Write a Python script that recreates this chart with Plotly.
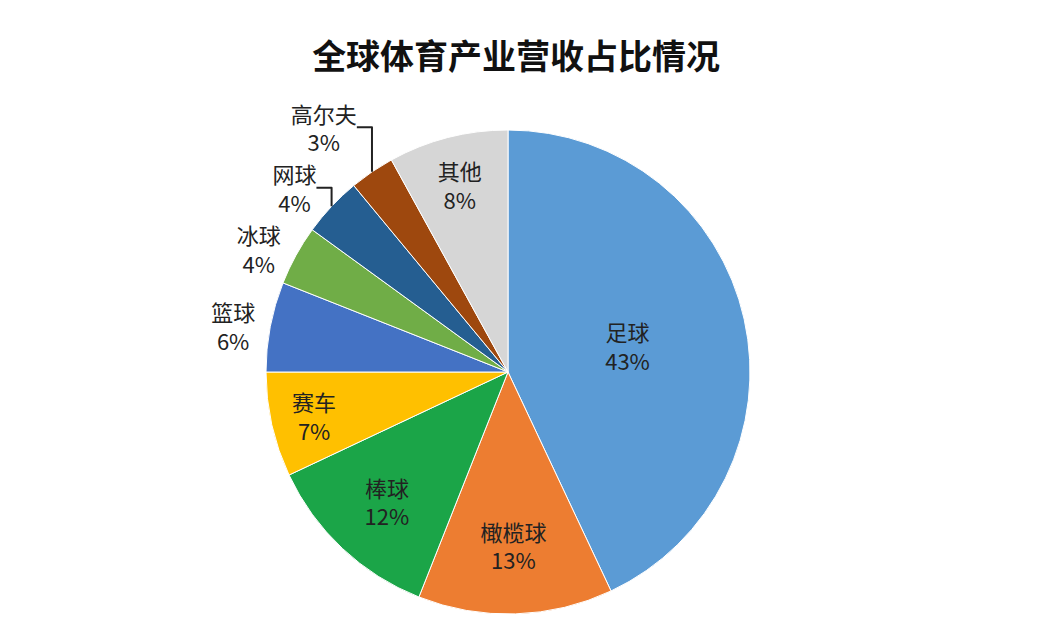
import plotly.graph_objects as go

labels = ["足球", "橄榄球", "棒球", "赛车", "篮球", "冰球", "网球", "高尔夫", "其他"]
values = [43, 13, 12, 7, 6, 4, 4, 3, 8]
colors = ["#5B9BD5", "#ED7D31", "#1BA548", "#FFC000", "#4472C4",
          "#70AD47", "#255E91", "#9E480E", "#D6D6D6"]
positions = ["inside", "inside", "inside", "inside", "outside",
             "outside", "outside", "outside", "inside"]

fig = go.Figure(go.Pie(
    labels=labels,
    values=values,
    sort=False,
    direction="clockwise",
    rotation=0,
    marker=dict(colors=colors, line=dict(color="white", width=1)),
    text=[f"{l}<br>{v}%" for l, v in zip(labels, values)],
    textinfo="text",
    textposition=positions,
    insidetextorientation="horizontal",
    textfont=dict(size=22, color="#222", family="Noto Sans CJK SC"),
    outsidetextfont=dict(size=22, color="#222", family="Noto Sans CJK SC"),
    domain=dict(x=[258/1037, 742/1037], y=[21/627, 505/627]),
    automargin=False,
    showlegend=False,
))

fig.update_layout(
    width=1037, height=627,
    margin=dict(l=0, r=0, t=0, b=0),
    paper_bgcolor="white",
    title=dict(text="<b>全球体育产业营收占比情况</b>", x=0.49, y=0.94,
               xanchor="center",
               font=dict(size=34, color="#111", family="Noto Sans CJK SC")),
)

fig.write_html("out.html")
